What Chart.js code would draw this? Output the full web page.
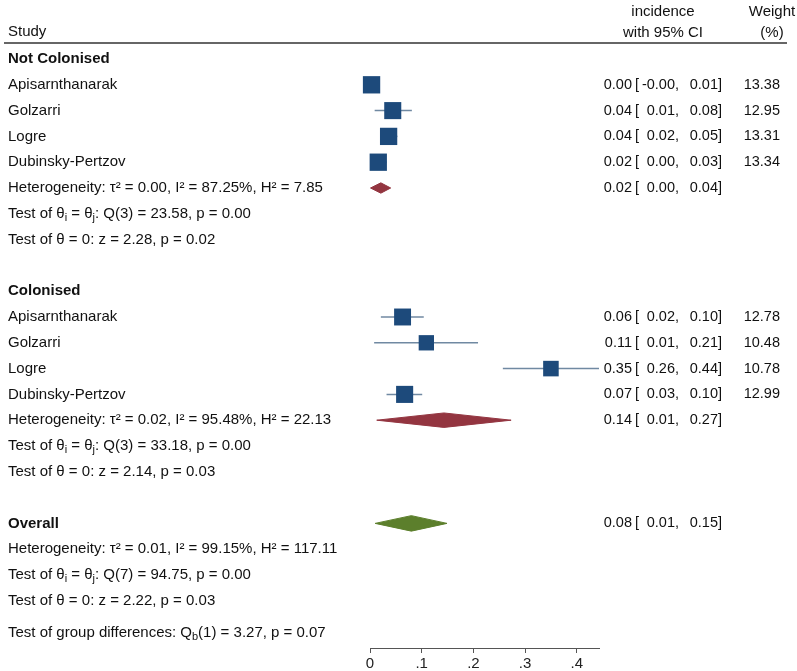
<!DOCTYPE html>
<html>
<head>
<meta charset="utf-8">
<script src="https://cdn.jsdelivr.net/npm/chart.js@4.4.0/dist/chart.umd.min.js"></script>
<style>
  html, body { margin: 0; padding: 0; background: #fff; }
  #wrap { position: relative; width: 797px; height: 671px; }
</style>
</head>
<body>
<div id="wrap"><canvas id="forest"></canvas></div>
<script>
// Forest plot of incidence, subgroups by colonisation status

const studies = ['Apisarnthanarak', 'Golzarri', 'Logre', 'Dubinsky-Pertzov'];

const notColEst = [0.003, 0.044, 0.036, 0.016];
const notColLo = [-0.003, 0.009, 0.020, 0.002];
const notColHi = [0.011, 0.081, 0.053, 0.032];
const notColWeight = [13.38, 12.95, 13.31, 13.34];

const colEst = [0.063, 0.109, 0.350, 0.067];
const colLo = [0.021, 0.008, 0.257, 0.032];
const colHi = [0.104, 0.209, 0.443, 0.101];
const colWeight = [12.78, 10.48, 10.78, 12.99];

// pooled estimates: [estimate, lower, upper]
const notColPooled = [0.021, 0.001, 0.040];
const colPooled = [0.143, 0.013, 0.273];
const overallPooled = [0.080, 0.010, 0.149];

const notColStats = [
  'Heterogeneity: τ² = 0.00, I² = 87.25%, H² = 7.85',
  'Test of θ_i = θ_j: Q(3) = 23.58, p = 0.00',
  'Test of θ = 0: z = 2.28, p = 0.02'
];
const colStats = [
  'Heterogeneity: τ² = 0.02, I² = 95.48%, H² = 22.13',
  'Test of θ_i = θ_j: Q(3) = 33.18, p = 0.00',
  'Test of θ = 0: z = 2.14, p = 0.03'
];
const overallStats = [
  'Heterogeneity: τ² = 0.01, I² = 99.15%, H² = 117.11',
  'Test of θ_i = θ_j: Q(7) = 94.75, p = 0.00',
  'Test of θ = 0: z = 2.22, p = 0.03'
];
const groupTest = 'Test of group differences: Q_b(1) = 3.27, p = 0.07';

const xTicks = [0, 0.1, 0.2, 0.3, 0.4];

// styles
const FONT = '"Liberation Sans", Arial, Helvetica, sans-serif';
const BOX = '#1d4a7b';
const CI = '#7089a2';
const RED = '#933540';
const GREEN = '#5c7f2c';
const TEXT = '#111';

// rows (0 = top)
const groups = [
  { name: 'Not Colonised', start: 0, est: notColEst, lo: notColLo, hi: notColHi, w: notColWeight, pooled: notColPooled, stats: notColStats, half: 0.2 },
  { name: 'Colonised', start: 9, est: colEst, lo: colLo, hi: colHi, w: colWeight, pooled: colPooled, stats: colStats, half: 0.28 }
];
const overallRow = 18;
const groupTestRow = 22.25;

const datasets = [];

groups.forEach(g => {
  // CI whiskers
  studies.forEach((s, i) => {
    const r = g.start + 1 + i;
    datasets.push({
      data: [{ x: g.lo[i], y: r }, { x: g.hi[i], y: r }],
      borderColor: CI, borderWidth: 1.5, pointRadius: 0, fill: false, order: 3
    });
  });
  // weighted boxes
  datasets.push({
    data: g.est.map((e, i) => ({ x: e, y: g.start + 1 + i })),
    showLine: false,
    pointStyle: 'rect',
    pointRadius: g.w.map(w => 3.35 * Math.sqrt(w)),
    backgroundColor: BOX, borderWidth: 0, order: 1
  });
  // subgroup diamond
  const r = g.start + 5, p = g.pooled;
  datasets.push({
    data: [{ x: p[1], y: r }, { x: p[0], y: r - g.half }, { x: p[2], y: r }, { x: p[0], y: r + g.half }, { x: p[1], y: r }],
    borderColor: RED, backgroundColor: RED, borderWidth: 1, pointRadius: 0, fill: 'shape', tension: 0, order: 2
  });
});

// overall diamond
datasets.push({
  data: [
    { x: overallPooled[1], y: overallRow }, { x: overallPooled[0], y: overallRow - 0.3 },
    { x: overallPooled[2], y: overallRow }, { x: overallPooled[0], y: overallRow + 0.3 },
    { x: overallPooled[1], y: overallRow }
  ],
  borderColor: GREEN, backgroundColor: GREEN, borderWidth: 1, pointRadius: 0, fill: 'shape', tension: 0, order: 2
});

function fmt(v) { return v.toFixed(2); }

// draw text with _x subscripts
function richText(ctx, str, x, y, bold) {
  const parts = str.split(/_(\w)/);
  let cx = x;
  parts.forEach((t, k) => {
    if (!t) return;
    const sub = k % 2 === 1;
    ctx.font = (bold ? 'bold ' : '') + (sub ? '11px ' : '15px ') + FONT;
    ctx.fillText(t, cx, sub ? y + 4 : y);
    cx += ctx.measureText(t).width;
  });
}

const tablePlugin = {
  id: 'table',
  afterDraw(chart) {
    const ctx = chart.ctx;
    const ys = chart.scales.y;
    ctx.save();
    ctx.fillStyle = TEXT;
    ctx.textBaseline = 'middle';

    // header
    ctx.font = '15px ' + FONT;
    ctx.textAlign = 'left';
    ctx.fillText('Study', 8, 32);
    ctx.textAlign = 'center';
    ctx.fillText('incidence', 663, 12);
    ctx.fillText('with 95% CI', 663, 33);
    ctx.fillText('Weight', 772, 12);
    ctx.fillText('(%)', 772, 33);
    ctx.strokeStyle = '#333';
    ctx.lineWidth = 1.5;
    ctx.beginPath();
    ctx.moveTo(4, 43);
    ctx.lineTo(787, 43);
    ctx.stroke();

    const ciText = (row, est, lo, hi, w) => {
      const y = ys.getPixelForValue(row);
      ctx.font = '14.5px ' + FONT;
      ctx.textAlign = 'right';
      ctx.fillText(fmt(est), 632, y);
      ctx.fillText(fmt(lo), 675, y);
      ctx.fillText(fmt(hi), 718, y);
      if (w !== undefined) ctx.fillText(w.toFixed(2), 780, y);
      ctx.textAlign = 'left';
      ctx.fillText('[', 635, y);
      ctx.fillText(',', 675, y);
      ctx.fillText(']', 718, y);
    };

    groups.forEach(g => {
      ctx.textAlign = 'left';
      richText(ctx, g.name, 8, ys.getPixelForValue(g.start), true);
      studies.forEach((s, i) => {
        const r = g.start + 1 + i;
        ctx.textAlign = 'left';
        richText(ctx, s, 8, ys.getPixelForValue(r), false);
        ciText(r, g.est[i], g.lo[i], g.hi[i], g.w[i]);
      });
      g.stats.forEach((s, k) => {
        ctx.textAlign = 'left';
        richText(ctx, s, 8, ys.getPixelForValue(g.start + 5 + k), false);
      });
      ciText(g.start + 5, g.pooled[0], g.pooled[1], g.pooled[2]);
    });

    ctx.textAlign = 'left';
    richText(ctx, 'Overall', 8, ys.getPixelForValue(overallRow), true);
    overallStats.forEach((s, k) => {
      ctx.textAlign = 'left';
      richText(ctx, s, 8, ys.getPixelForValue(overallRow + 1 + k), false);
    });
    ciText(overallRow, overallPooled[0], overallPooled[1], overallPooled[2]);
    ctx.textAlign = 'left';
    richText(ctx, groupTest, 8, ys.getPixelForValue(groupTestRow), false);
    ctx.restore();
  }
};

new Chart(document.getElementById('forest'), {
  type: 'line',
  data: { datasets },
  options: {
    responsive: true,
    maintainAspectRatio: false,
    animation: false,
    clip: false,
    layout: { padding: { left: 370, right: 198, top: 46, bottom: 0 } },
    plugins: { legend: { display: false }, tooltip: { enabled: false } },
    elements: { line: { tension: 0 } },
    scales: {
      x: {
        type: 'linear',
        min: 0,
        max: 0.443,
        afterBuildTicks: (scale) => { scale.ticks = xTicks.map(v => ({ value: v })); },
        afterFit: (scale) => { scale.height = 23; },
        ticks: {
          includeBounds: false,
          padding: 2,
          color: '#222',
          font: { family: FONT, size: 15 },
          callback: (v) => v === 0 ? '0' : '.' + Math.round(v * 10)
        },
        grid: { drawOnChartArea: false, drawTicks: true, tickLength: 5, color: '#555' },
        border: { display: true, color: '#555', width: 1 }
      },
      y: {
        type: 'linear',
        display: false,
        reverse: true,
        min: -0.504,
        max: 22.83
      }
    }
  },
  plugins: [tablePlugin]
});
</script>
</body>
</html>
